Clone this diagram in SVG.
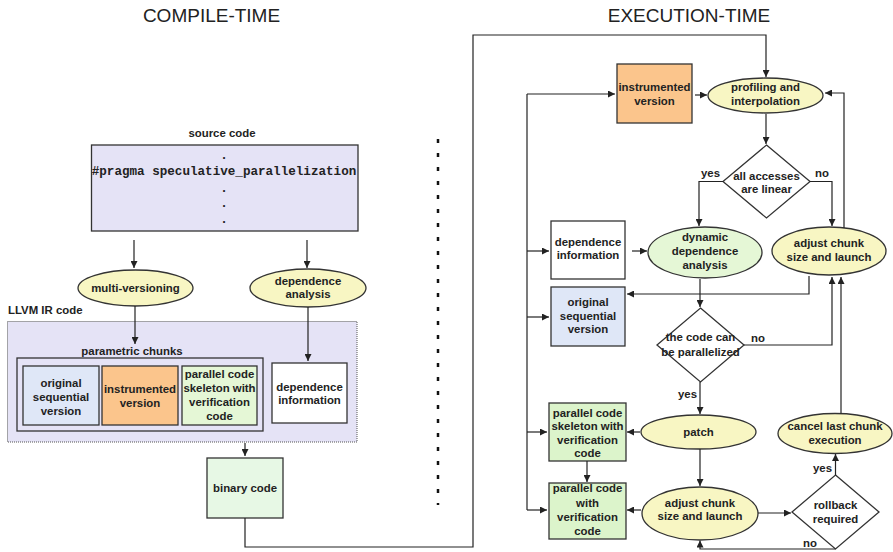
<svg xmlns="http://www.w3.org/2000/svg" width="893" height="552" viewBox="0 0 893 552">
  <defs>
    <marker id="arrow" viewBox="0 0 10 10" refX="10" refY="5" markerWidth="7" markerHeight="7" markerUnits="userSpaceOnUse" orient="auto">
      <path d="M0,0 L10,5 L0,10 z" fill="#222"/>
    </marker>
    <style>
      .title { font-family: "Liberation Sans", Arial, sans-serif; font-size: 19px; fill: #222; text-anchor: middle; }
      .t { font-family: "Liberation Sans", Arial, sans-serif; font-size: 11.4px; font-weight: bold; fill: #222; text-anchor: middle; }
      .lbl { font-family: "Liberation Sans", Arial, sans-serif; font-size: 11.4px; font-weight: bold; fill: #222; }
      .mono { font-family: "Liberation Mono", "Courier New", monospace; font-size: 12.6px; font-weight: bold; fill: #222; text-anchor: middle; }
      .box { stroke: #333; stroke-width: 1.3; }
      .lav { fill: #e5e3f6; }
      .blue { fill: #dfe7f7; }
      .orange { fill: #fbc58c; }
      .lgreen { fill: #e5f7d6; }
      .green { fill: #dcf4cb; }
      .mint { fill: #e7f8e5; }
      .white { fill: #ffffff; }
      .yellow { fill: #f8f6c3; }
      .conn { fill: none; stroke: #222; stroke-width: 1.2; }
      .arr { fill: none; stroke: #222; stroke-width: 1.2; marker-end: url(#arrow); }
    </style>
  </defs>

  <rect width="893" height="552" fill="#ffffff"/>

  <!-- section titles -->
  <text class="title" x="211.5" y="22">COMPILE-TIME</text>
  <text class="title" x="689" y="22">EXECUTION-TIME</text>

  <!-- separator between the two phases -->
  <line x1="438" y1="139" x2="438" y2="505" stroke="#111" stroke-width="2.5" stroke-dasharray="4 10"/>

  <!-- ===== compile-time nodes ===== -->
  <g id="source-code">
    <text class="t" x="222" y="137">source code</text>
    <rect class="box lav" x="91.5" y="145" width="266.5" height="86"/>
    <text class="mono" x="224" y="159">.</text>
    <text class="mono" x="224" y="175">#pragma speculative_parallelization</text>
    <text class="mono" x="224" y="192">.</text>
    <text class="mono" x="224" y="207">.</text>
    <text class="mono" x="224" y="223">.</text>
  </g>

  <g id="multi-versioning">
    <ellipse class="box yellow" cx="135.5" cy="288" rx="57.5" ry="18"/>
    <text class="t" x="135.5" y="292">multi-versioning</text>
  </g>

  <g id="dependence-analysis">
    <ellipse class="box yellow" cx="308" cy="288" rx="58" ry="19"/>
    <text class="t" x="308" y="285">dependence</text>
    <text class="t" x="308" y="298">analysis</text>
  </g>

  <g id="llvm-ir">
    <text class="lbl" x="8" y="314">LLVM IR code</text>
    <rect class="lav" x="7.5" y="321.5" width="349.5" height="120.5" stroke="#555" stroke-width="1" stroke-dasharray="1 1"/>
  </g>

  <g id="parametric-chunks">
    <text class="t" x="132" y="355">parametric chunks</text>
    <rect class="box lav" x="17" y="358" width="246" height="73"/>
  </g>

  <g id="ct-original">
    <rect class="box blue" x="23" y="366" width="76" height="59"/>
    <text class="t" x="61" y="387">original</text>
    <text class="t" x="61" y="401">sequential</text>
    <text class="t" x="61" y="415">version</text>
  </g>

  <g id="ct-instrumented">
    <rect class="box orange" x="102" y="366" width="76" height="59"/>
    <text class="t" x="140" y="393">instrumented</text>
    <text class="t" x="140" y="407">version</text>
  </g>

  <g id="ct-skeleton">
    <rect class="box lgreen" x="182" y="366" width="75" height="59"/>
    <text class="t" x="219.5" y="378">parallel code</text>
    <text class="t" x="219.5" y="392">skeleton with</text>
    <text class="t" x="219.5" y="406">verification</text>
    <text class="t" x="219.5" y="420">code</text>
  </g>

  <g id="ct-dependence-info">
    <rect class="box white" x="272" y="363" width="75" height="60"/>
    <text class="t" x="309.5" y="391">dependence</text>
    <text class="t" x="309.5" y="404">information</text>
  </g>

  <g id="binary-code">
    <rect class="box mint" x="207" y="458" width="76" height="60"/>
    <text class="t" x="245" y="492">binary code</text>
  </g>

  <!-- ===== execution-time nodes ===== -->
  <g id="rt-instrumented">
    <rect class="box orange" x="617" y="64" width="75" height="59"/>
    <text class="t" x="654.5" y="91">instrumented</text>
    <text class="t" x="654.5" y="105">version</text>
  </g>

  <g id="profiling">
    <ellipse class="box yellow" cx="765.5" cy="95.5" rx="57.5" ry="17.5"/>
    <text class="t" x="765.5" y="91">profiling and</text>
    <text class="t" x="765.5" y="105">interpolation</text>
  </g>

  <g id="all-linear">
    <polygon class="box white" points="766.5,145 810,181.5 766.5,218 723,181.5"/>
    <text class="t" x="766.5" y="180">all accesses</text>
    <text class="t" x="766.5" y="193">are linear</text>
  </g>

  <g id="rt-dependence-info">
    <rect class="box white" x="551" y="221" width="74" height="58"/>
    <text class="t" x="588" y="246">dependence</text>
    <text class="t" x="588" y="259">information</text>
  </g>

  <g id="dynamic-analysis">
    <ellipse class="box lgreen" cx="705" cy="252.5" rx="57" ry="25.5"/>
    <text class="t" x="705" y="241">dynamic</text>
    <text class="t" x="705" y="255">dependence</text>
    <text class="t" x="705" y="269">analysis</text>
  </g>

  <g id="adjust-top">
    <ellipse class="box yellow" cx="829" cy="251" rx="57" ry="24"/>
    <text class="t" x="829" y="247">adjust chunk</text>
    <text class="t" x="829" y="261">size and launch</text>
  </g>

  <g id="rt-original">
    <rect class="box blue" x="551" y="287" width="74" height="59"/>
    <text class="t" x="588" y="306">original</text>
    <text class="t" x="588" y="320">sequential</text>
    <text class="t" x="588" y="333">version</text>
  </g>

  <g id="can-parallelize">
    <polygon class="box white" points="700.5,308 744,345 700.5,382 657,345"/>
    <text class="t" x="700.5" y="341">the code can</text>
    <text class="t" x="700.5" y="356">be parallelized</text>
  </g>

  <g id="patch">
    <ellipse class="box yellow" cx="698.5" cy="432" rx="57.5" ry="17"/>
    <text class="t" x="698.5" y="436">patch</text>
  </g>

  <g id="rt-skeleton">
    <rect class="box green" x="549" y="403" width="77" height="58"/>
    <text class="t" x="587.5" y="417">parallel code</text>
    <text class="t" x="587.5" y="430">skeleton with</text>
    <text class="t" x="587.5" y="444">verification</text>
    <text class="t" x="587.5" y="457">code</text>
  </g>

  <g id="rt-parallel">
    <rect class="box green" x="549" y="483" width="77" height="56"/>
    <text class="t" x="587.5" y="492">parallel code</text>
    <text class="t" x="587.5" y="507">with</text>
    <text class="t" x="587.5" y="521">verification</text>
    <text class="t" x="587.5" y="535">code</text>
  </g>

  <g id="adjust-bottom">
    <ellipse class="box yellow" cx="700" cy="513.5" rx="58" ry="26.5"/>
    <text class="t" x="700" y="507">adjust chunk</text>
    <text class="t" x="700" y="520">size and launch</text>
  </g>

  <g id="rollback">
    <polygon class="box white" points="835.5,475 879,512 835.5,549 792,512"/>
    <text class="t" x="835.5" y="509">rollback</text>
    <text class="t" x="835.5" y="523">required</text>
  </g>

  <g id="cancel">
    <ellipse class="box yellow" cx="835" cy="433.5" rx="57" ry="20"/>
    <text class="t" x="835" y="430">cancel last chunk</text>
    <text class="t" x="835" y="444">execution</text>
  </g>

  <!-- ===== connectors ===== -->
  <g id="connectors">
    <line class="arr" x1="134" y1="240" x2="134" y2="268"/>
    <line class="arr" x1="307" y1="240" x2="307" y2="268"/>
    <line class="arr" x1="135" y1="306" x2="135" y2="344"/>
    <line class="arr" x1="308" y1="307" x2="308" y2="361"/>
    <line class="arr" x1="245" y1="443" x2="245" y2="456"/>
    <polyline class="arr" points="245,518 245,547 473,547 473,35 766,35 766,77"/>

    <polyline class="conn" points="527,510 527,94"/>
    <line class="arr" x1="527" y1="94" x2="615" y2="94"/>
    <line class="arr" x1="527" y1="251" x2="549" y2="251"/>
    <line class="arr" x1="527" y1="317" x2="549" y2="317"/>
    <line class="arr" x1="527" y1="432" x2="547" y2="432"/>
    <line class="arr" x1="527" y1="510" x2="547" y2="510"/>

    <line class="arr" x1="695" y1="95" x2="707" y2="95"/>
    <line class="arr" x1="766" y1="114" x2="766" y2="144"/>
    <polyline class="arr" points="723,181.5 699,181.5 699,226"/>
    <polyline class="arr" points="810,181.5 832,181.5 832,226"/>
    <polyline class="arr" points="844,228 844,93 825,93"/>
    <line class="arr" x1="632" y1="251" x2="647" y2="251"/>
    <polyline class="arr" points="809,276 809,294 627,294"/>
    <line class="arr" x1="700" y1="279" x2="700" y2="307"/>
    <polyline class="arr" points="744,345 832,345 832,277"/>
    <line class="arr" x1="841" y1="413.5" x2="841" y2="277"/>
    <line class="arr" x1="700" y1="382" x2="700" y2="414"/>
    <line class="arr" x1="640" y1="432" x2="627" y2="432"/>
    <line class="arr" x1="700" y1="449" x2="700" y2="486"/>
    <line class="arr" x1="587" y1="461" x2="587" y2="482"/>
    <line class="arr" x1="641" y1="510" x2="627" y2="510"/>
    <line class="arr" x1="758" y1="513" x2="791" y2="513"/>
    <line class="arr" x1="835.5" y1="475" x2="835.5" y2="454"/>
    <polyline class="arr" points="835.5,549 700,549 700,540.5"/>

    <text class="lbl" x="701" y="177">yes</text>
    <text class="lbl" x="815" y="177">no</text>
    <text class="lbl" x="751" y="342">no</text>
    <text class="lbl" x="678" y="398">yes</text>
    <text class="lbl" x="813" y="472">yes</text>
    <text class="lbl" x="803" y="546.5">no</text>
  </g>
</svg>
